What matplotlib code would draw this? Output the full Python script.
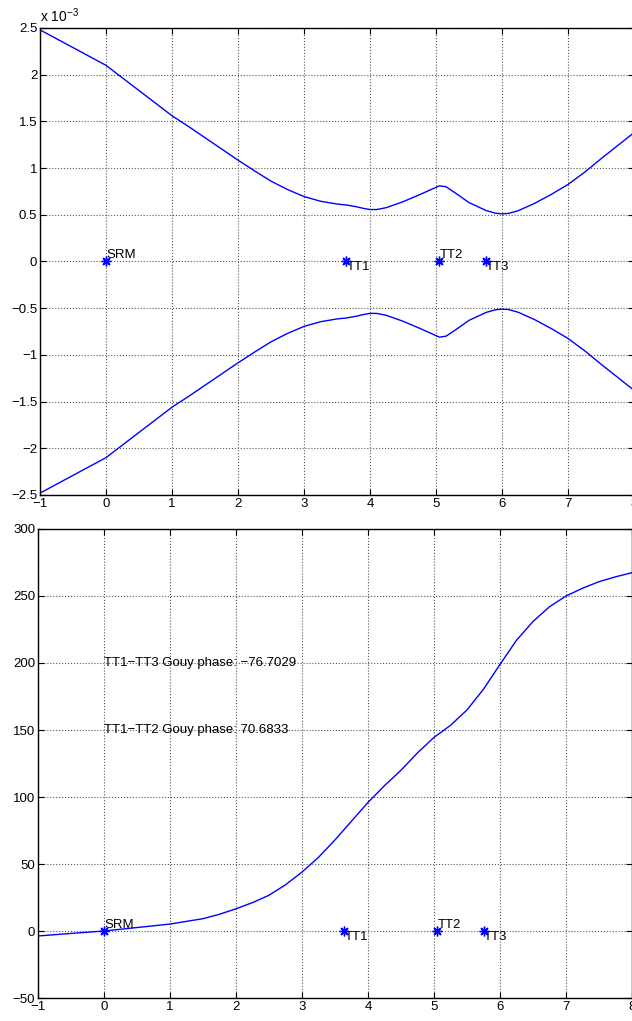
import matplotlib
matplotlib.use("Agg")
import matplotlib.pyplot as plt
from matplotlib.ticker import FuncFormatter

plt.rcParams['font.family'] = ['Liberation Sans', 'DejaVu Sans']
plt.rcParams['font.size'] = 9.5

# beam radius envelope (units of 1e-3)
z_beam = [-1, -0.5, 0, 0.25, 0.5, 0.75, 1, 1.25, 1.5, 1.75, 2, 2.25, 2.5, 2.75,
          3, 3.25, 3.5, 3.64, 3.8, 3.9, 4, 4.1, 4.25, 4.5, 4.75, 5.05, 5.15,
          5.3, 5.5, 5.76, 5.9, 6, 6.1, 6.25, 6.5, 6.75, 7, 7.25, 7.5, 7.75, 8]
w_beam = [2.48, 2.29, 2.10, 1.965, 1.83, 1.695, 1.56, 1.445, 1.325, 1.205,
          1.085, 0.97, 0.86, 0.77, 0.695, 0.645, 0.615, 0.605, 0.585, 0.568,
          0.556, 0.556, 0.577, 0.64, 0.715, 0.81, 0.80, 0.73, 0.63, 0.545,
          0.517, 0.51, 0.515, 0.545, 0.625, 0.72, 0.825, 0.955, 1.10, 1.24,
          1.38]

# accumulated Gouy phase (deg)
z_gouy = [-1, -0.5, 0, 0.5, 1, 1.5, 1.75, 2, 2.25, 2.5, 2.75, 3, 3.25, 3.5,
          3.75, 4, 4.25, 4.5, 4.75, 5, 5.25, 5.5, 5.75, 6, 6.25, 6.5, 6.75,
          7, 7.25, 7.5, 7.75, 8]
gouy = [-3.7, -1.8, 0, 2.6, 5.2, 9.2, 12.5, 16.6, 21.2, 26.7, 34.5, 44, 55,
        68, 82, 96, 108.5, 120, 133, 144.5, 153.5, 165, 180.5, 199, 217,
        231, 242, 250, 255.8, 260.7, 264.3, 267.4]

# optics
opt_names = ['SRM', 'TT1', 'TT2', 'TT3']
opt_z = [0, 3.64, 5.05, 5.76]
opt_above = [True, False, True, False]

gouy_notes = ['TT1\u2212TT3 Gouy phase: \u221276.7029',
              'TT1\u2212TT2 Gouy phase: 70.6833']
gouy_note_y = [200, 150]


def fmt(v, pos):
    return ('%g' % v).replace('-', '\u2212')


def style(ax):
    ax.grid(True, linestyle=':', color='0.35', linewidth=0.8)
    ax.tick_params(direction='in', top=True, right=True, length=4,
                   width=0.8, pad=2)
    for s in ax.spines.values():
        s.set_linewidth(1.0)
    ax.xaxis.set_major_formatter(FuncFormatter(fmt))
    ax.yaxis.set_major_formatter(FuncFormatter(fmt))


def mark_optics(ax):
    ax.plot(opt_z, [0] * len(opt_z), linestyle='none', marker=(8, 2, 0),
            color='b', markersize=7, markeredgewidth=1.0)
    for name, z, up in zip(opt_names, opt_z, opt_above):
        ax.text(z, 0, name, ha='left', va='bottom' if up else 'top')


fig = plt.figure(figsize=(6.32, 10.21), dpi=100)

ax1 = fig.add_axes([0.0633, 0.5152, 0.94, 0.4574])
ax1.plot(z_beam, w_beam, color='b', lw=1.0)
ax1.plot(z_beam, [-w for w in w_beam], color='b', lw=1.0)
mark_optics(ax1)
ax1.set_xlim(-1, 8)
ax1.set_ylim(-2.5, 2.5)
ax1.set_xticks(range(-1, 9))
ax1.set_yticks([-2.5, -2, -1.5, -1, -0.5, 0, 0.5, 1, 1.5, 2, 2.5])
style(ax1)
ax1.text(0.0, 1.006, 'x 10$^{\\mathregular{\u22123}}$', transform=ax1.transAxes,
         ha='left', va='bottom', fontsize=10)

ax2 = fig.add_axes([0.0601, 0.0225, 0.94, 0.4594])
ax2.plot(z_gouy, gouy, color='b', lw=1.0)
mark_optics(ax2)
for note, y in zip(gouy_notes, gouy_note_y):
    ax2.text(0, y, note, ha='left', va='center')
ax2.set_xlim(-1, 8)
ax2.set_ylim(-50, 300)
ax2.set_xticks(range(-1, 9))
ax2.set_yticks(range(-50, 301, 50))
style(ax2)

fig.savefig('out.png', dpi=100)
